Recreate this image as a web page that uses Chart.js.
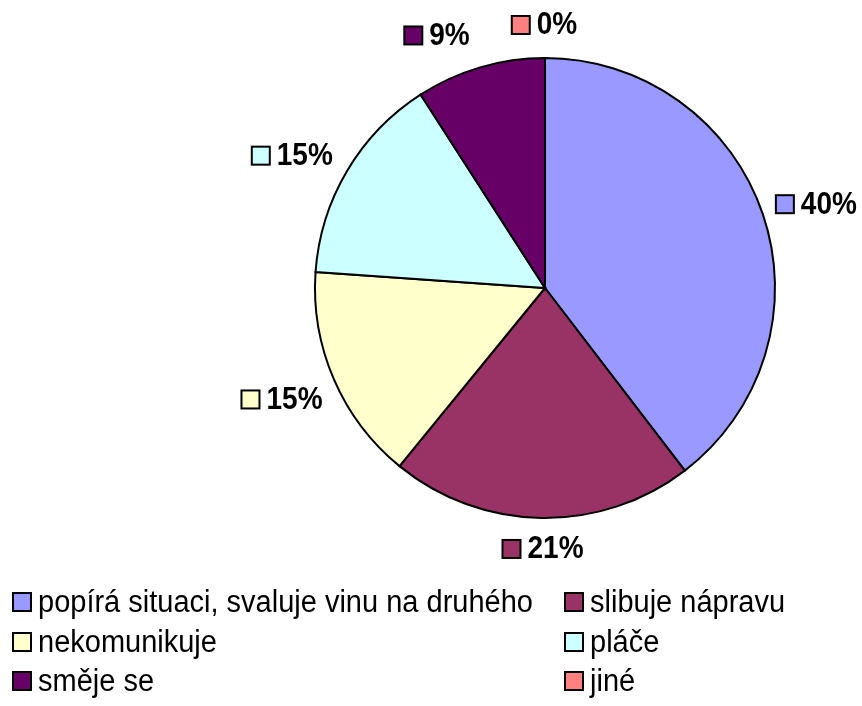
<!DOCTYPE html>
<html>
<head>
<meta charset="utf-8">
<title>Reakce</title>
<script src="https://cdn.jsdelivr.net/npm/chart.js@4"></script>
<style>
  html, body { margin: 0; padding: 0; background: #fff; }
  #wrap { width: 862px; height: 706px; }
</style>
</head>
<body>
<div id="wrap"><canvas id="pie" width="862" height="706"></canvas></div>
<script>
// slices clockwise from 12 o'clock
var categories = [
  'popírá situaci, svaluje vinu na druhého',
  'slibuje nápravu',
  'nekomunikuje',
  'pláče',
  'směje se',
  'jiné'
];
var shares = [39.6, 21.3, 15.2, 14.8, 9.1, 0];
var sliceColors = ['#9999FF', '#993366', '#FFFFCC', '#CCFFFF', '#660066', '#FF8080'];

var FONT = '"Liberation Sans", Arial, sans-serif';
var TEXT_STRETCH = 1.1;   // source text is a little taller than plain Arial
var LABEL_GAP = 15;       // distance of the label box from the rim
var LABEL_NUDGE = [[1, -1], [3, 3], [0, 9], [-6, -1], [-29, -5], [0, -5]];

function drawKey(ctx, x, y, color) {
  ctx.fillStyle = color;
  ctx.fillRect(x, y, 18, 18);
  ctx.lineWidth = 2;
  ctx.strokeStyle = '#000';
  ctx.strokeRect(x, y, 18, 18);
}

function tallText(ctx, txt, x, y) {
  ctx.save();
  ctx.translate(x, y);
  ctx.scale(1, TEXT_STRETCH);
  ctx.fillStyle = '#000';
  ctx.fillText(txt, 0, 0);
  ctx.restore();
}

var outsideLabels = {
  id: 'outsideLabels',
  afterDatasetsDraw: function (chart) {
    var ctx = chart.ctx;
    var meta = chart.getDatasetMeta(0);
    var total = shares.reduce(function (a, b) { return a + b; }, 0);
    ctx.save();
    ctx.font = 'bold 28px ' + FONT;
    ctx.textBaseline = 'middle';
    ctx.textAlign = 'left';
    meta.data.forEach(function (arc, i) {
      var mid = (arc.startAngle + arc.endAngle) / 2;
      var dx = Math.cos(mid), dy = Math.sin(mid);
      var txt = Math.round(shares[i] / total * 100) + '%';
      var w = 19 + 7 + ctx.measureText(txt).width;
      var h = 26;
      var r = arc.outerRadius + LABEL_GAP;
      var cx = arc.x + r * dx + dx * w / 2 + LABEL_NUDGE[i][0];
      var cy = arc.y + r * dy + dy * h / 2 + LABEL_NUDGE[i][1];
      var left = cx - w / 2;
      drawKey(ctx, left, cy - 9, sliceColors[i]);
      tallText(ctx, txt, left + 25, cy + 1);
    });
    ctx.restore();
  }
};

var gridLegend = {
  id: 'gridLegend',
  afterDraw: function (chart) {
    var ctx = chart.ctx;
    var colX = [13, 565];
    var rowY = [602, 642, 681];
    ctx.save();
    ctx.font = '29px ' + FONT;
    ctx.textBaseline = 'middle';
    ctx.textAlign = 'left';
    categories.forEach(function (name, i) {
      var x = colX[i % 2], y = rowY[Math.floor(i / 2)];
      drawKey(ctx, x, y - 9, sliceColors[i]);
      tallText(ctx, name, x + 25, y + 1);
    });
    ctx.restore();
  }
};

new Chart(document.getElementById('pie'), {
  type: 'pie',
  data: {
    labels: categories,
    datasets: [{
      data: shares,
      backgroundColor: sliceColors,
      borderColor: '#000',
      borderWidth: 2,
      borderJoinStyle: 'miter'
    }]
  },
  options: {
    responsive: false,
    animation: false,
    layout: { padding: { top: 57, bottom: 187, left: 314, right: 86 } },
    plugins: {
      legend: { display: false },
      tooltip: { enabled: false }
    }
  },
  plugins: [outsideLabels, gridLegend]
});
</script>
</body>
</html>
